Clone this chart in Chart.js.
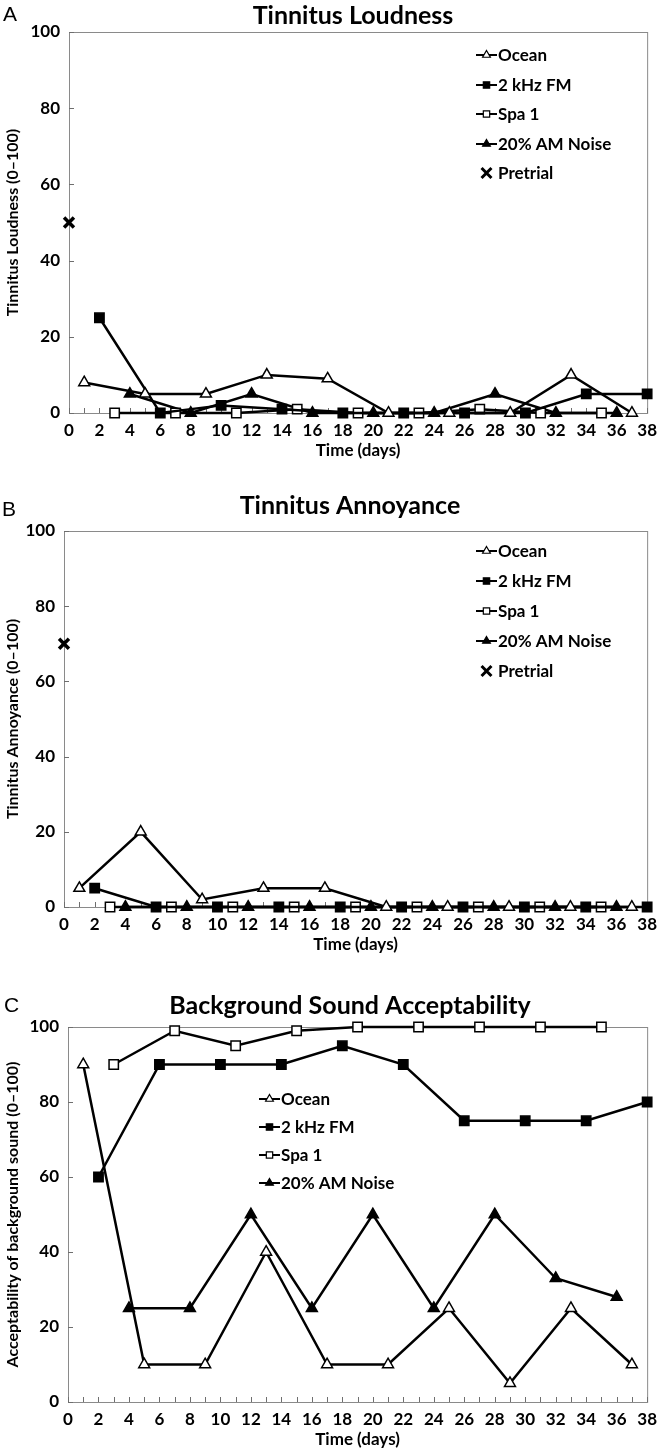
<!DOCTYPE html>
<html lang="en">
<head>
<meta charset="UTF-8">
<title>Tinnitus ratings over time</title>
<script src="https://cdn.jsdelivr.net/npm/chart.js"></script>
<style>
    html, body { margin: 0; padding: 0; background: #fff; }
    body { width: 664px; height: 1454px; position: relative; overflow: hidden; }
    canvas { position: absolute; left: 0; }
</style>
</head>
<body>

<canvas id="loudness" width="664" height="465" style="top:0"></canvas>
<canvas id="annoyance" width="664" height="485" style="top:480px"></canvas>
<canvas id="acceptability" width="664" height="479" style="top:975px"></canvas>

<script>
    // days on which each sound was rated
    const oceanDays = [1, 5, 9, 13, 17, 21, 25, 29, 33, 37]
    const fmDays = [2, 6, 10, 14, 18, 22, 26, 30, 34, 38]
    const spaDays = [3, 7, 11, 15, 19, 23, 27, 31, 35]
    const amDays = [4, 8, 12, 16, 20, 24, 28, 32, 36]
    const pretrialDays = [0]

    // A - tinnitus loudness
    const loudOcean = [8, 5, 5, 10, 9, 0, 0, 0, 10, 0]
    const loudFm = [25, 0, 2, 1, 0, 0, 0, 0, 5, 5]
    const loudSpa = [0, 0, 0, 1, 0, 0, 1, 0, 0]
    const loudAm = [5, 0, 5, 0, 0, 0, 5, 0, 0]
    const loudPretrial = [50]

    // B - tinnitus annoyance
    const annOcean = [5, 20, 2, 5, 5, 0, 0, 0, 0, 0]
    const annFm = [5, 0, 0, 0, 0, 0, 0, 0, 0, 0]
    const annSpa = [0, 0, 0, 0, 0, 0, 0, 0, 0]
    const annAm = [0, 0, 0, 0, 0, 0, 0, 0, 0]
    const annPretrial = [70]

    // C - background sound acceptability
    const accOcean = [90, 10, 10, 40, 10, 10, 25, 5, 25, 10]
    const accFm = [60, 90, 90, 90, 95, 90, 75, 75, 75, 80]
    const accSpa = [90, 99, 95, 99, 100, 100, 100, 100, 100]
    const accAm = [25, 25, 50, 25, 50, 25, 50, 33, 28]

    const xTicks = { min: 0, max: 38, step: 2 }
    const yTicks = { min: 0, max: 100, step: 20 }

    const FONT = 'Lato, "Liberation Sans", sans-serif'

    function pts(days, values) {
        return days.map((d, i) => ({ x: d, y: values[i] }))
    }

    function lineSet(label, days, values, style, filled) {
        return {
            label: label,
            data: pts(days, values),
            borderColor: '#000',
            borderWidth: 2.5,
            pointStyle: style,
            pointRadius: style === 'rect' ? 6.6 : 6.3,
            pointBackgroundColor: filled ? '#000' : '#fff',
            pointBorderColor: '#000',
            pointBorderWidth: 1.5,
            tension: 0,
            clip: false,
            fill: false
        }
    }

    function pretrialSet(values) {
        return {
            label: 'Pretrial',
            data: pts(pretrialDays, values),
            showLine: false,
            pointStyle: 'crossRot',
            pointRadius: 7,
            pointBorderWidth: 3.5,
            pointBorderColor: '#000',
            pointBackgroundColor: '#000',
            borderColor: '#000',
            clip: false
        }
    }

    function marker(ctx, style, x, y, r, filled) {
        ctx.save()
        ctx.lineWidth = 1.2
        ctx.strokeStyle = '#000'
        ctx.fillStyle = filled ? '#000' : '#fff'
        ctx.beginPath()
        if (style === 'triangle') {
            for (let k = 0; k < 3; k++) {
                const a = k * 2 * Math.PI / 3
                const px = x + Math.sin(a) * r, py = y - Math.cos(a) * r
                k ? ctx.lineTo(px, py) : ctx.moveTo(px, py)
            }
            ctx.closePath()
            ctx.fill(); ctx.stroke()
        } else if (style === 'rect') {
            const s = r * Math.SQRT1_2
            ctx.rect(x - s, y - s, 2 * s, 2 * s)
            ctx.fill(); ctx.stroke()
        } else {
            const s = r * Math.SQRT1_2
            ctx.lineWidth = 3
            ctx.moveTo(x - s, y - s); ctx.lineTo(x + s, y + s)
            ctx.moveTo(x + s, y - s); ctx.lineTo(x - s, y + s)
            ctx.stroke()
        }
        ctx.restore()
    }

    const panelDeco = {
        id: 'panelDeco',
        beforeDatasetsDraw(chart, args, o) {
            const ctx = chart.ctx
            const a = chart.chartArea
            const xs = chart.scales.x, ys = chart.scales.y
            ctx.save()
            ctx.strokeStyle = '#8a8a8a'
            ctx.lineWidth = 1
            ctx.strokeRect(a.left + 0.5, a.top + 0.5, a.right - a.left, a.bottom - a.top)
            ctx.strokeStyle = '#6e6e6e'
            ctx.beginPath()
            for (let d = xTicks.min; d <= xTicks.max; d++) {
                const px = Math.round(xs.getPixelForValue(d)) + 0.5
                ctx.moveTo(px, a.bottom); ctx.lineTo(px, a.bottom - 5)
            }
            for (let v = yTicks.min; v <= yTicks.max; v += yTicks.step) {
                const py = Math.round(ys.getPixelForValue(v)) + 0.5
                ctx.moveTo(a.left, py); ctx.lineTo(a.left + 5, py)
            }
            ctx.stroke()
            ctx.restore()
        },
        afterDraw(chart, args, o) {
            const ctx = chart.ctx
            ctx.save()
            ctx.fillStyle = '#000'
            ctx.textBaseline = 'middle'
            ctx.textAlign = 'left'
            ctx.font = '21px "Liberation Sans", Arial, sans-serif'
            ctx.fillText(o.letter, o.letterX, o.letterY)
            ctx.textAlign = 'center'
            ctx.font = 'bold 25px ' + FONT
            ctx.fillText(o.title, o.titleX, o.titleY)

            // legend: short line with marker, then label
            ctx.textAlign = 'left'
            ctx.font = 'bold 17px ' + FONT
            chart.data.datasets.forEach((ds, i) => {
                const y = o.legendY[i]
                const x = o.legendX
                if (ds.showLine !== false) {
                    ctx.strokeStyle = '#000'
                    ctx.lineWidth = 2
                    ctx.beginPath()
                    ctx.moveTo(x, y); ctx.lineTo(x + 21, y)
                    ctx.stroke()
                }
                marker(ctx, ds.pointStyle, x + 10.5, y, ds.pointStyle === 'crossRot' ? 7 : 4.5,
                    ds.pointBackgroundColor === '#000')
                ctx.fillStyle = '#000'
                ctx.fillText(ds.label, x + 22, y + 1)
            })
            ctx.restore()
        }
    }

    function makeChart(id, datasets, yTitle, geo, deco) {
        return new Chart(document.getElementById(id), {
            type: 'line',
            data: { datasets: datasets },
            plugins: [panelDeco],
            options: {
                responsive: false,
                animation: false,
                events: [],
                layout: {
                    padding: { top: geo.top, right: geo.right, bottom: geo.bottom, left: 0 }
                },
                plugins: {
                    legend: { display: false },
                    tooltip: { enabled: false },
                    title: { display: false },
                    panelDeco: deco
                },
                scales: {
                    x: {
                        type: 'linear',
                        min: xTicks.min,
                        max: xTicks.max,
                        ticks: {
                            stepSize: xTicks.step,
                            autoSkip: false,
                            maxRotation: 0,
                            padding: 7,
                            color: '#000',
                            font: { family: FONT, size: 17, weight: 'bold' }
                        },
                        grid: { display: false, drawTicks: false },
                        border: { display: false },
                        title: {
                            display: true,
                            text: 'Time (days)',
                            color: '#000',
                            font: { family: FONT, size: 17, weight: 'bold' },
                            padding: { top: 0, bottom: 2 }
                        },
                        afterFit(s) { s.height = 50 }
                    },
                    y: {
                        min: yTicks.min,
                        max: yTicks.max,
                        ticks: {
                            stepSize: yTicks.step,
                            padding: 9,
                            color: '#000',
                            font: { family: FONT, size: 17, weight: 'bold' }
                        },
                        grid: { display: false, drawTicks: false },
                        border: { display: false },
                        title: {
                            display: true,
                            text: yTitle,
                            color: '#000',
                            font: { family: FONT, size: 16, weight: 'bold' },
                            padding: { top: 3, bottom: 0 }
                        },
                        afterFit(s) { s.width = geo.left }
                    }
                }
            }
        })
    }

    const charts = []

    charts.push(makeChart('loudness', [
        lineSet('Ocean', oceanDays, loudOcean, 'triangle', false),
        lineSet('2 kHz FM', fmDays, loudFm, 'rect', true),
        lineSet('Spa 1', spaDays, loudSpa, 'rect', false),
        lineSet('20% AM Noise', amDays, loudAm, 'triangle', true),
        pretrialSet(loudPretrial)
    ], 'Tinnitus Loudness (0\u2013100)',
        { top: 32, right: 14, bottom: 2, left: 69 },
        { letter: 'A', letterX: 3, letterY: 15, title: 'Tinnitus Loudness', titleX: 353, titleY: 16,
          legendX: 476, legendY: [55, 85, 114, 144, 173] }))

    charts.push(makeChart('annoyance', [
        lineSet('Ocean', oceanDays, annOcean, 'triangle', false),
        lineSet('2 kHz FM', fmDays, annFm, 'rect', true),
        lineSet('Spa 1', spaDays, annSpa, 'rect', false),
        lineSet('20% AM Noise', amDays, annAm, 'triangle', true),
        pretrialSet(annPretrial)
    ], 'Tinnitus Annoyance (0\u2013100)',
        { top: 51, right: 13, bottom: 8, left: 64 },
        { letter: 'B', letterX: 2, letterY: 30, title: 'Tinnitus Annoyance', titleX: 350, titleY: 26,
          legendX: 476, legendY: [71, 101, 131, 161, 191] }))

    charts.push(makeChart('acceptability', [
        lineSet('Ocean', oceanDays, accOcean, 'triangle', false),
        lineSet('2 kHz FM', fmDays, accFm, 'rect', true),
        lineSet('Spa 1', spaDays, accSpa, 'rect', false),
        lineSet('20% AM Noise', amDays, accAm, 'triangle', true)
    ], 'Acceptability of background sound (0\u2013100)',
        { top: 52, right: 13, bottom: 2, left: 68 },
        { letter: 'C', letterX: 4, letterY: 31, title: 'Background Sound Acceptability', titleX: 350, titleY: 31,
          legendX: 259, legendY: [124, 152, 180, 208] }))
</script>

</body>
</html>
